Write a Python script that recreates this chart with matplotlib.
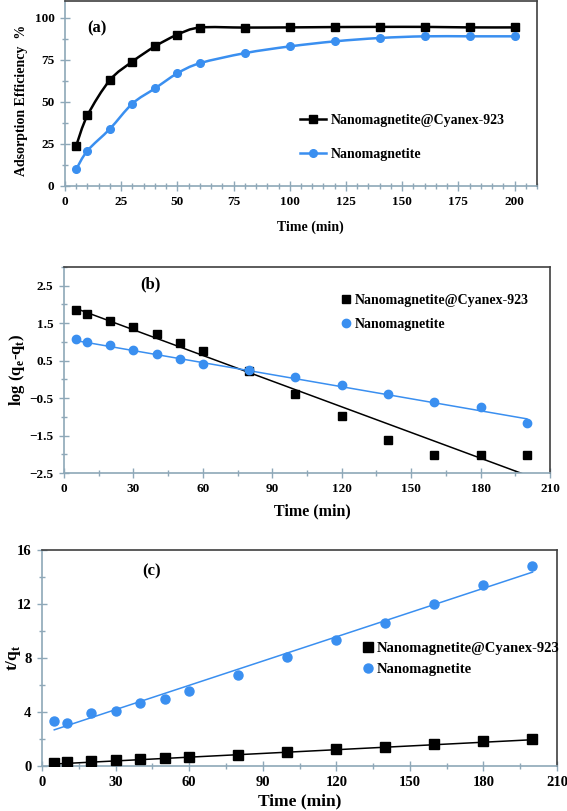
"""
Adsorption kinetics figure: (a) efficiency vs time, (b) pseudo-first-order,
(c) pseudo-second-order plots for Nanomagnetite and Nanomagnetite@Cyanex-923.
"""

import numpy as np
import matplotlib
matplotlib.use("Agg")
import matplotlib.pyplot as plt
from matplotlib.path import Path
from matplotlib.patches import PathPatch
from matplotlib.lines import Line2D
from matplotlib.ticker import MultipleLocator

# ---------------------------------------------------------------------------
# Data
# ---------------------------------------------------------------------------

time_min = [5, 10, 20, 30, 40, 50, 60, 80, 100, 120, 140, 160, 180, 200]

# (a) adsorption efficiency %
eff_cyanex = [24, 42, 63, 74, 83, 90, 94.2, 94.2, 94.3, 94.5, 94.6, 94.6, 94.3, 94.3]
eff_magnetite = [10, 21, 34, 49, 58, 67, 73, 79, 83, 86, 88, 89, 89, 89]

# (b) log(qe - qt)
log_cyanex = [1.86, 1.74, 1.55, 1.40, 1.22, 0.98, 0.76, 0.23, -0.40, -0.97,
              -1.61, -2.01, -2.01, -2.01]
log_magnetite = [1.07, 1.01, 0.92, 0.79, 0.67, 0.55, 0.42, 0.24, 0.05, -0.16,
                 -0.40, -0.61, -0.75, -1.16]
fit_b_cyanex = (-0.02286, 2.01)      # slope, intercept
fit_b_magnetite = (-0.01072, 1.09)

# (c) t/qt
tq_cyanex = [0.22, 0.27, 0.34, 0.44, 0.54, 0.60, 0.69, 0.85, 1.03, 1.23,
             1.43, 1.63, 1.85, 2.02]
tq_magnetite = [3.37, 3.20, 3.94, 4.11, 4.63, 5.00, 5.52, 6.77, 8.08, 9.33,
                10.62, 12.00, 13.42, 14.80]
fit_c_cyanex = (0.00923, 0.10)
fit_c_magnetite = (0.0599, 2.38)

label_cyanex = "Nanomagnetite@Cyanex-923"
label_magnetite = "Nanomagnetite"

# ---------------------------------------------------------------------------
# Style
# ---------------------------------------------------------------------------

BLACK = "#000000"
BLUE = "#3a8ff0"
AXIS_COL = "#8ea8b8"
FRAME_COL = "#404040"
FONT = "Liberation Serif"

plt.rcParams["font.family"] = FONT
plt.rcParams["font.weight"] = "bold"

W, H = 567, 811
fig = plt.figure(figsize=(W / 100, H / 100), dpi=100)


def add_axes(left, right, top, bottom):
    return fig.add_axes([left / W, 1 - bottom / H, (right - left) / W, (bottom - top) / H])


def style_axes(ax, tick_size=9.5):
    for side in ("left", "bottom"):
        ax.spines[side].set_color(AXIS_COL)
        ax.spines[side].set_linewidth(1.2)
    for side in ("top", "right"):
        ax.spines[side].set_color(FRAME_COL)
        ax.spines[side].set_linewidth(1.2)
    ax.tick_params(which="both", direction="inout", color=AXIS_COL, width=1.0,
                   top=False, right=False, labelsize=tick_size, pad=4)
    ax.tick_params(which="major", length=7)
    ax.tick_params(which="minor", length=4)
    for lbl in ax.get_xticklabels() + ax.get_yticklabels():
        lbl.set_fontweight("bold")


def smooth_path(x, y):
    """Excel-like smoothed line: cubic Bezier segments through the points."""
    pts = np.column_stack([x, y]).astype(float)
    n = len(pts)
    verts = [pts[0]]
    codes = [Path.MOVETO]
    for i in range(n - 1):
        p0 = pts[i - 1] if i > 0 else pts[i]
        p1, p2 = pts[i], pts[i + 1]
        p3 = pts[i + 2] if i + 2 < n else pts[i + 1]
        c1 = p1 + (p2 - p0) / 6.0
        c2 = p2 - (p3 - p1) / 6.0
        verts += [c1, c2, p2]
        codes += [Path.CURVE4] * 3
    return Path(verts, codes)


LEG_PROP = {"family": FONT, "weight": "bold", "size": 10}

# ---------------------------------------------------------------------------
# (a)
# ---------------------------------------------------------------------------
ax = add_axes(65, 537, 1, 186)
for yv, col, mk in ((eff_cyanex, BLACK, "s"), (eff_magnetite, BLUE, "o")):
    ax.add_patch(PathPatch(smooth_path(time_min, yv), fill=False, edgecolor=col,
                           lw=1.8, zorder=2))
    ax.plot(time_min, yv, ls="none", marker=mk, ms=5.5, color=col, zorder=3)
ax.set_xlim(0, 210)
ax.set_ylim(0, 110)
ax.set_xticks(np.arange(0, 201, 25))
ax.xaxis.set_minor_locator(MultipleLocator(5))
ax.yaxis.set_major_locator(MultipleLocator(25))
ax.yaxis.set_minor_locator(MultipleLocator(12.5))
style_axes(ax)
ax.set_xlabel("Time (min)", fontsize=10, fontweight="bold")
ax.xaxis.set_label_coords(0.52, -0.185)
ax.set_ylabel("Adsorption Efficiency  %", fontsize=10, fontweight="bold")
ax.yaxis.set_label_coords(-0.078, 0.46)
ax.text(0.068, 0.85, "(a)", transform=ax.transAxes, fontsize=12, fontweight="bold",
        ha="center", va="center")
handles = [Line2D([], [], color=BLACK, marker="s", ms=5.5, lw=1.8, label=label_cyanex),
           Line2D([], [], color=BLUE, marker="o", ms=5.5, lw=1.8, label=label_magnetite)]
ax.legend(handles=handles, loc="upper left", bbox_to_anchor=(0.498, 0.39),
          frameon=False, prop=LEG_PROP, handlelength=1.9, handletextpad=0.3,
          labelspacing=1.5, borderaxespad=0, borderpad=0)

# ---------------------------------------------------------------------------
# (b)
# ---------------------------------------------------------------------------
ax = add_axes(64, 550, 267, 473)
fit_x = np.array([time_min[0], time_min[-1]])
for yv, fit, col, mk, lbl in ((log_cyanex, fit_b_cyanex, BLACK, "s", label_cyanex),
                              (log_magnetite, fit_b_magnetite, BLUE, "o", label_magnetite)):
    ax.plot(time_min, yv, ls="none", marker=mk, ms=6, color=col, zorder=3, label=lbl)
    ax.plot(fit_x, fit[0] * fit_x + fit[1], color=col, lw=1.1, zorder=2)
ax.set_xlim(0, 210)
ax.set_ylim(-2.5, 3.0)
ax.xaxis.set_major_locator(MultipleLocator(30))
ax.xaxis.set_minor_locator(MultipleLocator(15))
ax.set_yticks([-2.5, -1.5, -0.5, 0.5, 1.5, 2.5])
ax.yaxis.set_minor_locator(MultipleLocator(0.5))
style_axes(ax)
ax.set_xlabel("Time (min)", fontsize=11.5, fontweight="bold")
ax.xaxis.set_label_coords(0.512, -0.148)
ax.set_ylabel("log (q$_\\mathregular{e}$-q$_\\mathregular{t}$)", fontsize=12,
              fontweight="bold")
ax.yaxis.set_label_coords(-0.076, 0.5)
ax.text(0.177, 0.915, "(b)", transform=ax.transAxes, fontsize=12, fontweight="bold",
        ha="center", va="center")
ax.legend(loc="upper left", bbox_to_anchor=(0.572, 0.87), frameon=False,
          prop=LEG_PROP, handlelength=0.6, handletextpad=0.3, labelspacing=0.8,
          borderaxespad=0, borderpad=0)

# ---------------------------------------------------------------------------
# (c)
# ---------------------------------------------------------------------------
ax = add_axes(42, 557, 550, 766)
for yv, fit, col, mk, lbl in ((tq_cyanex, fit_c_cyanex, BLACK, "s", label_cyanex),
                              (tq_magnetite, fit_c_magnetite, BLUE, "o", label_magnetite)):
    ax.plot(time_min, yv, ls="none", marker=mk, ms=6.5, color=col, zorder=3, label=lbl)
    ax.plot(fit_x, fit[0] * fit_x + fit[1], color=col, lw=1.1, zorder=2)
ax.set_xlim(0, 210)
ax.set_ylim(0, 16)
ax.xaxis.set_major_locator(MultipleLocator(30))
ax.xaxis.set_minor_locator(MultipleLocator(15))
ax.yaxis.set_major_locator(MultipleLocator(4))
ax.yaxis.set_minor_locator(MultipleLocator(2))
style_axes(ax, tick_size=10.5)
ax.set_xlabel("Time (min)", fontsize=12.5, fontweight="bold")
ax.xaxis.set_label_coords(0.50, -0.128)
ax.set_ylabel("t/q$_\\mathregular{t}$", fontsize=12.5, fontweight="bold")
ax.yaxis.set_label_coords(-0.037, 0.5)
ax.text(0.212, 0.90, "(c)", transform=ax.transAxes, fontsize=12, fontweight="bold",
        ha="center", va="center")
ax.legend(loc="upper left", bbox_to_anchor=(0.625, 0.575), frameon=False,
          prop={"family": FONT, "weight": "bold", "size": 10.5},
          handlelength=0.6, handletextpad=0.3, labelspacing=0.55,
          borderaxespad=0, borderpad=0)

fig.savefig("out.png", dpi=100)
